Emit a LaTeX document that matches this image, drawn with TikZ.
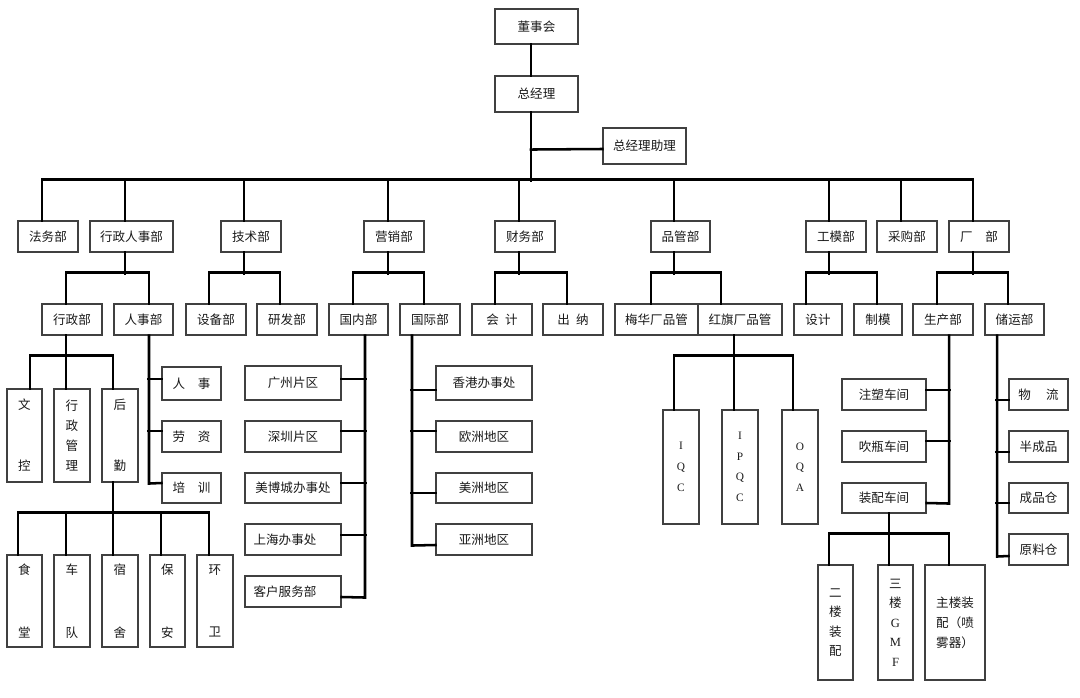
\documentclass[tikz,border=0pt]{standalone}
\usepackage{fontspec}
\newfontfamily\cjk{Noto Sans CJK SC}
\newfontfamily\lser{Liberation Serif}
\usetikzlibrary{calc}
\tikzset{
  box/.style={draw=black!75, line width=0.8pt, fill=white, inner sep=0pt, text=black!90,
    font=\cjk\fontsize{9.4}{11}\selectfont, align=center},
  conn/.style={line width=1.9pt, line cap=rect, black},
  vta/.style={font=\cjk\fontsize{9.4}{45.75}\selectfont},
  vtb/.style={font=\cjk\fontsize{9.4}{15.2}\selectfont},
  vtc/.style={font=\cjk\fontsize{9.4}{47}\selectfont},
  vtd/.style={font=\cjk\fontsize{9.4}{14.6}\selectfont},
  vte/.style={font=\cjk\fontsize{9.4}{15}\selectfont},
  ltr/.style={font=\lser\fontsize{8.5}{15.5}\selectfont},
}
\newcommand\bx[7][]{\node[box,minimum width={(#5-#3)*0.75pt},minimum height={(#6-#4)*0.75pt},#1] (#2) at ({(#3+#5)/2},{(#4+#6)/2}) {#7};}
\begin{document}
\begin{tikzpicture}[x=0.75pt,y=-0.75pt]
\path[use as bounding box, fill=white] (0,0) rectangle (1080,698);
% top
\bx{dsh}{495}{9}{578}{44}{董事会}
\bx{zjl}{495}{76}{578}{112}{总经理}
\bx{zl}{603}{128}{686}{164}{总经理助理}
% level 1
\bx{fwb}{18}{221}{78}{252}{法务部}
\bx{xzrs}{90}{221}{173}{252}{行政人事部}
\bx{jsb}{221}{221}{281}{252}{技术部}
\bx{yxb}{364}{221}{424}{252}{营销部}
\bx{cwb}{495}{221}{555}{252}{财务部}
\bx{pgb}{651}{221}{710}{252}{品管部}
\bx{gmb}{806}{221}{866}{252}{工模部}
\bx{cgb}{877}{221}{937}{252}{采购部}
\bx{cb}{949}{221}{1009}{252}{厂\hspace{1em}部}
% level 2
\bx{xzb}{42}{304}{102}{335}{行政部}
\bx{rsb}{114}{304}{173}{335}{人事部}
\bx{sbb}{186}{304}{246}{335}{设备部}
\bx{yfb}{257}{304}{317}{335}{研发部}
\bx{gnb}{329}{304}{388}{335}{国内部}
\bx{gjb}{400}{304}{460}{335}{国际部}
\bx{kj}{472}{304}{532}{335}{会\hspace{0.5em}计}
\bx{cn}{543}{304}{603}{335}{出\hspace{0.5em}纳}
\bx{mh}{615}{304}{698}{335}{梅华厂品管}
\bx{hq}{698}{304}{782}{335}{红旗厂品管}
\bx{sj}{794}{304}{842}{335}{设计}
\bx{zm}{854}{304}{902}{335}{制模}
\bx{scb}{913}{304}{973}{335}{生产部}
\bx{cyb}{985}{304}{1044}{335}{储运部}
% level 3 - admin
\bx[vta]{wk}{7}{389}{42}{482}{文\\控}
\bx[vtb]{xzgl}{54}{389}{90}{482}{行\\政\\管\\理}
\bx[vta]{hqn}{102}{389}{138}{482}{后\\勤}
\bx{rs1}{162}{367}{221}{400}{人\quad 事}
\bx{rs2}{162}{421}{221}{452}{劳\quad 资}
\bx{rs3}{162}{473}{221}{503}{培\quad 训}
\bx[vtc]{st}{7}{555}{42}{647}{食\\堂}
\bx[vtc]{cd}{54}{555}{90}{647}{车\\队}
\bx[vtc]{ss}{102}{555}{138}{647}{宿\\舍}
\bx[vtc]{ba}{150}{555}{185}{647}{保\\安}
\bx[vtc]{hw}{197}{555}{233}{647}{环\\卫}
% sales
\bx{gn1}{245}{366}{341}{400}{广州片区}
\bx{gn2}{245}{421}{341}{452}{深圳片区}
\bx{gn3}{245}{473}{341}{503}{美博城办事处}
\bx{gn4}{245}{524}{341}{555}{上海办事处\hspace{12pt}}
\bx{gn5}{245}{576}{341}{607}{客户服务部\hspace{12pt}}
\bx{gj1}{436}{366}{532}{400}{香港办事处}
\bx{gj2}{436}{421}{532}{452}{欧洲地区}
\bx{gj3}{436}{473}{532}{503}{美洲地区}
\bx{gj4}{436}{524}{532}{555}{亚洲地区}
% quality
\bx[ltr]{iqc}{663}{410}{699}{524}{I\\Q\\C}
\bx[ltr]{ipqc}{722}{410}{758}{524}{I\\P\\Q\\C}
\bx[ltr]{oqa}{782}{410}{818}{524}{O\\Q\\A}
% factory
\bx{sc1}{842}{379}{926}{410}{注塑车间}
\bx{sc2}{842}{431}{926}{462}{吹瓶车间}
\bx{sc3}{842}{483}{926}{513}{装配车间}
\bx[vtd]{zp1}{818}{565}{853}{680}{二\\楼\\装\\配}
\bx[vtd]{zp2}{878}{565}{913}{680}{三\\楼\\{\lser G}\\{\lser M}\\{\lser F}}
\bx[vte]{zp3}{925}{565}{985}{680}{主楼装\\配（喷\\雾器）}
\bx{cy1}{1009}{379}{1068}{410}{物\hspace{1.2em}流}
\bx{cy2}{1009}{431}{1068}{462}{半成品}
\bx{cy3}{1009}{483}{1068}{513}{成品仓}
\bx{cy4}{1009}{534}{1068}{565}{原料仓}
% ---------- connectors ----------
\draw[conn] ($(dsh.south)+(-5.5,0)$) -- ($(zjl.north)+(-5.5,0)$);
\draw[conn] ($(zjl.south)+(-5.5,0)$) -- ++(0,68) coordinate (mb);
\draw[conn] ($(zjl.south)+(-5.5,37)$) -- ($(zl.west)+(0,3)$);
\draw[conn] ($(fwb.north)+(-6,0)$) -- ++(0,-41) -| ($(cb.north)+(-6,0)$);
\foreach \n/\d in {xzrs/-6.5,jsb/-7,yxb/-6,cwb/-6,pgb/-6.5,gmb/-7,cgb/-6}
  \draw[conn] ($(\n.north)+(\d,0)$) -- ++(0,-41);
% level 2 trees
\foreach \p/\dp/\l/\dl/\r/\dr in {xzrs/-6.5/xzb/-6/rsb/5.5, jsb/-7/sbb/-7/yfb/-7,
    yxb/-6/gnb/-5.5/gjb/-6, cwb/-6/kj/-7/cn/-6, pgb/-6.5/mh/-5.5/hq/-19,
    gmb/-7/sj/-12/zm/-1, cb/-6/scb/-6/cyb/-6.5}{
  \draw[conn] ($(\p.south)+(\dp,0)$) -- ++(0,21);
  \draw[conn] ($(\l.north)+(\dl,0)$) -- ++(0,-31) -| ($(\r.north)+(\dr,0)$);
}
% 行政部
\draw[conn] ($(xzb.south)+(-6,0)$) -- ++(0,21);
\draw[conn] ($(wk.north)+(5.5,0)$) -- ++(0,-33) -| ($(hqn.north)+(-7,0)$);
\draw[conn] ($(xzgl.north)+(-6,0)$) -- ++(0,-33);
% 后勤
\draw[conn] ($(hqn.south)+(-7,0)$) -- ++(0,31);
\draw[conn] ($(st.north)+(-6.5,0)$) -- ++(0,-42) -| ($(hw.north)+(-6,0)$);
\foreach \n/\d in {cd/-6,ss/-7,ba/-6.5}
  \draw[conn] ($(\n.north)+(\d,0)$) -- ++(0,-42);
% 红旗厂品管
\draw[conn] ($(hq.south)+(-6,0)$) -- ++(0,21);
\draw[conn] ($(iqc.north)+(-7,0)$) -- ++(0,-54) -| ($(oqa.north)+(-7,0)$);
\draw[conn] ($(ipqc.north)+(-6,0)$) -- ++(0,-54);
% 装配车间
\draw[conn] ($(sc3.south)+(5,0)$) -- ++(0,21);
\draw[conn] ($(zp1.north)+(-6.5,0)$) -- ++(0,-31) -| ($(zp3.north)+(-6,0)$);
\draw[conn] ($(zp2.north)+(-6.5,0)$) -- ++(0,-31);
% 人事部 list
\draw[conn] ($(rsb.south)+(5.5,0)$) -- ++(0,148) -- ($(rs3.west)+(0,-5)$);
\draw[conn] ($(rs1.west)+(0,-4.5)$) -- ++(-13,0);
\draw[conn] ($(rs2.west)+(0,-5.5)$) -- ++(-13,0);
% 国内部 list
\draw[conn] ($(gnb.south)+(6.5,0)$) -- ++(0,262) -- ($(gn5.east)+(0,5.5)$);
\foreach \n/\d in {gn1/-4,gn2/-5.5,gn3/-5,gn4/-4.5}
  \draw[conn] ($(\n.east)+(0,\d)$) -- ++(24,0);
% 国际部 list
\draw[conn] ($(gjb.south)+(-18,0)$) -- ++(0,210) -- ($(gj4.west)+(0,5.5)$);
\foreach \n/\d in {gj1/7,gj2/-5.5,gj3/5}
  \draw[conn] ($(\n.west)+(0,\d)$) -- ++(-24,0);
% 生产部 list
\draw[conn] ($(scb.south)+(6,0)$) -- ++(0,168) -- ($(sc3.east)+(0,5)$);
\foreach \n/\d in {sc1/-4.5,sc2/-5.5}
  \draw[conn] ($(\n.east)+(0,\d)$) -- ++(23,0);
% 储运部 list
\draw[conn] ($(cyb.south)+(-17.5,0)$) -- ++(0,221) -- ($(cy4.west)+(0,6.5)$);
\foreach \n/\d in {cy1/5.5,cy2/5.5,cy3/5}
  \draw[conn] ($(\n.west)+(0,\d)$) -- ++(-12,0);
\end{tikzpicture}
\end{document}
